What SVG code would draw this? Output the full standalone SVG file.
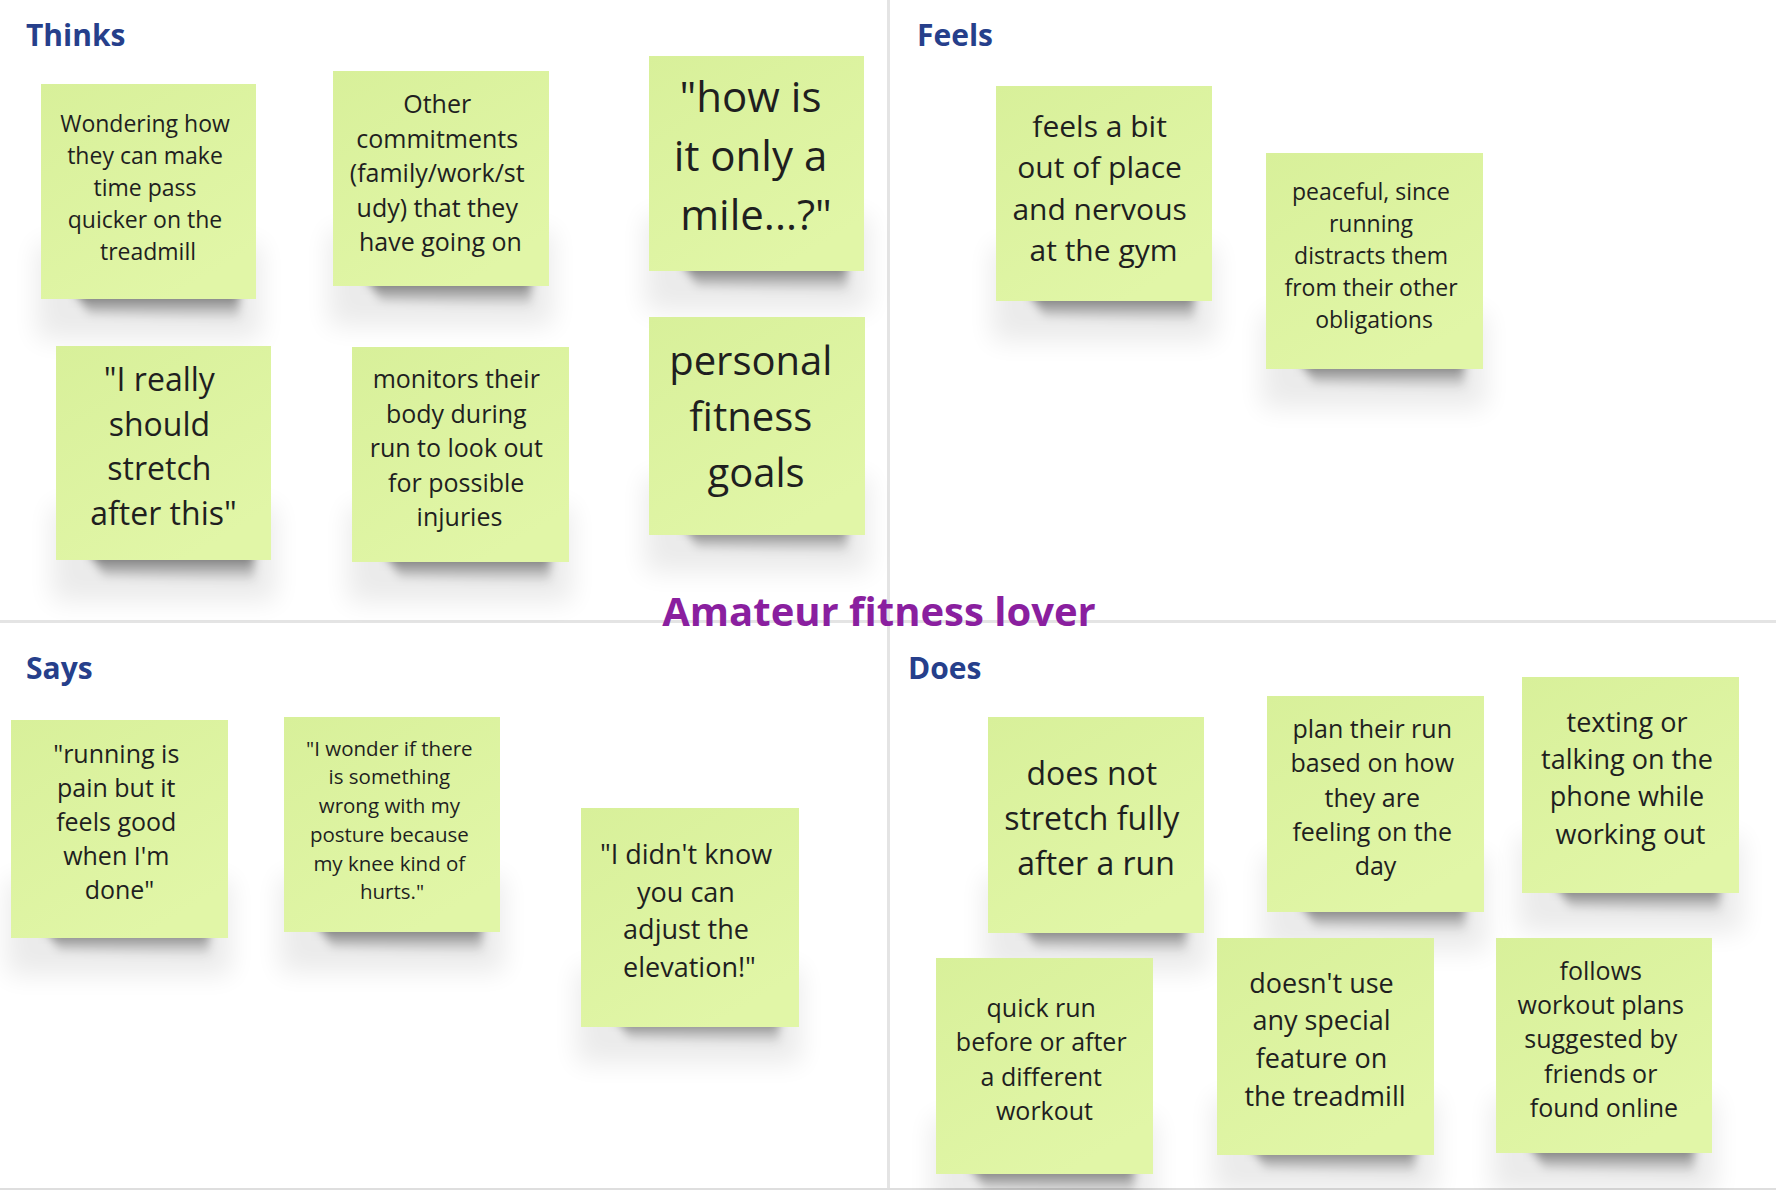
<svg xmlns="http://www.w3.org/2000/svg" xmlns:xlink="http://www.w3.org/1999/xlink" width="1776" height="1190" viewBox="0 0 1776 1190">
  <style>
    .bg { fill: #ffffff; }
    .divider { stroke: #e4e4e4; stroke-width: 3; fill: none; }
    .edge { stroke: #dedede; stroke-width: 2; fill: none; }
    .quad { font-family: "Open Sans", "Noto Sans", sans-serif; font-weight: 700; font-size: 30px; fill: #263f8b; }
    .persona { font-family: "Open Sans", "Noto Sans", sans-serif; font-weight: 700; font-size: 40px; fill: #8a1f9f; }
    .paper { fill: url(#paperFill); }
    .note-text { font-family: "Open Sans", "Noto Sans", sans-serif; font-weight: 400; fill: #1f1f1f; text-anchor: middle; }
  </style>
  <defs>
    <linearGradient id="paperFill" x1="0" y1="0" x2="0.6" y2="1">
      <stop offset="0" stop-color="#d8f09a"/>
      <stop offset="1" stop-color="#e1f6a7"/>
    </linearGradient>
    <linearGradient id="shadeFade" x1="0" y1="0" x2="0" y2="1">
      <stop offset="0" stop-color="#000" stop-opacity="0.6"/>
      <stop offset="1" stop-color="#000" stop-opacity="0"/>
    </linearGradient>
    <filter id="blurTight" x="-20%" y="-100%" width="140%" height="300%">
      <feGaussianBlur stdDeviation="5"/>
    </filter>
    <filter id="blurSoft" x="-30%" y="-100%" width="160%" height="300%">
      <feGaussianBlur stdDeviation="13"/>
    </filter>
    <!-- lifted-corner shadow under a 216x216 sticky note -->
    <g id="noteShadow">
      <rect x="-4" y="160" width="224" height="95" fill="#000" opacity="0.08" filter="url(#blurSoft)"/>
      <path d="M32 204 L198 204 L198 236 L48 230 Z" fill="url(#shadeFade)" filter="url(#blurTight)"/>
    </g>
  </defs>

  <rect class="bg" x="0" y="0" width="1776" height="1190"/>

  <!-- quadrant grid -->
  <g id="grid">
    <line class="divider" x1="888.5" y1="0" x2="888.5" y2="1190"/>
    <line class="divider" x1="0" y1="621.5" x2="1776" y2="621.5"/>
    <line class="edge" x1="0" y1="1189" x2="1776" y2="1189"/>
  </g>

  <!-- quadrant headings -->
  <g id="headings">
    <text class="quad" x="26" y="46">Thinks</text>
    <text class="quad" x="917" y="46">Feels</text>
    <text class="quad" x="26" y="679">Says</text>
    <text class="quad" x="908" y="679">Does</text>
  </g>

  <!-- Thinks -->
  <g id="note-thinks-1" transform="translate(41,84)">
    <use href="#noteShadow"/>
    <rect class="paper" width="215" height="215"/>
    <text class="note-text" font-size="23">
      <tspan x="107" y="47.6">Wondering how</tspan>
      <tspan x="107" y="79.6">they can make</tspan>
      <tspan x="107" y="111.6">time pass</tspan>
      <tspan x="107" y="143.6">quicker on the</tspan>
      <tspan x="107" y="175.6">treadmill</tspan>
    </text>
  </g>

  <g id="note-thinks-2" transform="translate(333,71)">
    <use href="#noteShadow"/>
    <rect class="paper" width="216" height="215"/>
    <text class="note-text" font-size="25">
      <tspan x="107.5" y="42">Other</tspan>
      <tspan x="107.5" y="76.6">commitments</tspan>
      <tspan x="107.5" y="111.2">(family/work/st</tspan>
      <tspan x="107.5" y="145.8">udy) that they</tspan>
      <tspan x="107.5" y="180.4">have going on</tspan>
    </text>
  </g>

  <g id="note-thinks-3" transform="translate(649,56)">
    <use href="#noteShadow"/>
    <rect class="paper" width="215" height="215"/>
    <text class="note-text" font-size="42">
      <tspan x="107" y="56">"how is</tspan>
      <tspan x="107" y="115">it only a</tspan>
      <tspan x="107" y="174">mile...?"</tspan>
    </text>
  </g>

  <g id="note-thinks-4" transform="translate(56,346)">
    <use href="#noteShadow"/>
    <rect class="paper" width="215" height="214"/>
    <text class="note-text" font-size="32">
      <tspan x="107.5" y="45">"I really</tspan>
      <tspan x="107.5" y="89.6">should</tspan>
      <tspan x="107.5" y="134.2">stretch</tspan>
      <tspan x="107.5" y="178.8">after this"</tspan>
    </text>
  </g>

  <g id="note-thinks-5" transform="translate(352,347)">
    <use href="#noteShadow"/>
    <rect class="paper" width="217" height="215"/>
    <text class="note-text" font-size="25">
      <tspan x="107.5" y="41">monitors their</tspan>
      <tspan x="107.5" y="75.5">body during</tspan>
      <tspan x="107.5" y="110">run to look out</tspan>
      <tspan x="107.5" y="144.5">for possible</tspan>
      <tspan x="107.5" y="179">injuries</tspan>
    </text>
  </g>

  <g id="note-thinks-6" transform="translate(649,317)">
    <use href="#noteShadow"/>
    <rect class="paper" width="216" height="218"/>
    <text class="note-text" font-size="40">
      <tspan x="107" y="58">personal</tspan>
      <tspan x="107" y="114">fitness</tspan>
      <tspan x="107" y="170">goals</tspan>
    </text>
  </g>

  <!-- Feels -->
  <g id="note-feels-1" transform="translate(996,86)">
    <use href="#noteShadow"/>
    <rect class="paper" width="216" height="215"/>
    <text class="note-text" font-size="30">
      <tspan x="107.5" y="50.5">feels a bit</tspan>
      <tspan x="107.5" y="92">out of place</tspan>
      <tspan x="107.5" y="133.5">and nervous</tspan>
      <tspan x="107.5" y="175">at the gym</tspan>
    </text>
  </g>

  <g id="note-feels-2" transform="translate(1266,153)">
    <use href="#noteShadow"/>
    <rect class="paper" width="217" height="216"/>
    <text class="note-text" font-size="23">
      <tspan x="108" y="47">peaceful, since</tspan>
      <tspan x="108" y="79">running</tspan>
      <tspan x="108" y="111">distracts them</tspan>
      <tspan x="108" y="143">from their other</tspan>
      <tspan x="108" y="175">obligations</tspan>
    </text>
  </g>

  <!-- centre persona -->
  <text id="persona" class="persona" x="879" y="626" text-anchor="middle">Amateur fitness lover</text>

  <!-- Says -->
  <g id="note-says-1" transform="translate(11,720)">
    <use href="#noteShadow"/>
    <rect class="paper" width="217" height="218"/>
    <text class="note-text" font-size="25">
      <tspan x="108.5" y="43">"running is</tspan>
      <tspan x="108.5" y="77">pain but it</tspan>
      <tspan x="108.5" y="111">feels good</tspan>
      <tspan x="108.5" y="145">when I'm</tspan>
      <tspan x="108.5" y="179">done"</tspan>
    </text>
  </g>

  <g id="note-says-2" transform="translate(284,717)">
    <use href="#noteShadow"/>
    <rect class="paper" width="216" height="215"/>
    <text class="note-text" font-size="20.5">
      <tspan x="108" y="38.7">"I wonder if there</tspan>
      <tspan x="108" y="67.4">is something</tspan>
      <tspan x="108" y="96.1">wrong with my</tspan>
      <tspan x="108" y="124.8">posture because</tspan>
      <tspan x="108" y="153.5">my knee kind of</tspan>
      <tspan x="108" y="182.2">hurts."</tspan>
    </text>
  </g>

  <g id="note-says-3" transform="translate(581,808)">
    <use href="#noteShadow"/>
    <rect class="paper" width="218" height="219"/>
    <text class="note-text" font-size="27">
      <tspan x="108.5" y="55.6">"I didn't know</tspan>
      <tspan x="108.5" y="93.5">you can</tspan>
      <tspan x="108.5" y="131.4">adjust the</tspan>
      <tspan x="108.5" y="169.3">elevation!"</tspan>
    </text>
  </g>

  <!-- Does -->
  <g id="note-does-1" transform="translate(988,717)">
    <use href="#noteShadow"/>
    <rect class="paper" width="216" height="216"/>
    <text class="note-text" font-size="32">
      <tspan x="108" y="68">does not</tspan>
      <tspan x="108" y="113">stretch fully</tspan>
      <tspan x="108" y="158">after a run</tspan>
    </text>
  </g>

  <g id="note-does-2" transform="translate(1267,696)">
    <use href="#noteShadow"/>
    <rect class="paper" width="217" height="216"/>
    <text class="note-text" font-size="25">
      <tspan x="108.5" y="42">plan their run</tspan>
      <tspan x="108.5" y="76.3">based on how</tspan>
      <tspan x="108.5" y="110.6">they are</tspan>
      <tspan x="108.5" y="144.9">feeling on the</tspan>
      <tspan x="108.5" y="179.2">day</tspan>
    </text>
  </g>

  <g id="note-does-3" transform="translate(1522,677)">
    <use href="#noteShadow"/>
    <rect class="paper" width="217" height="216"/>
    <text class="note-text" font-size="27">
      <tspan x="108.5" y="54.6">texting or</tspan>
      <tspan x="108.5" y="92">talking on the</tspan>
      <tspan x="108.5" y="129.4">phone while</tspan>
      <tspan x="108.5" y="166.8">working out</tspan>
    </text>
  </g>

  <g id="note-does-4" transform="translate(936,958)">
    <use href="#noteShadow"/>
    <rect class="paper" width="217" height="216"/>
    <text class="note-text" font-size="25">
      <tspan x="108.5" y="58.7">quick run</tspan>
      <tspan x="108.5" y="93.1">before or after</tspan>
      <tspan x="108.5" y="127.5">a different</tspan>
      <tspan x="108.5" y="161.9">workout</tspan>
    </text>
  </g>

  <g id="note-does-5" transform="translate(1217,938)">
    <use href="#noteShadow"/>
    <rect class="paper" width="217" height="217"/>
    <text class="note-text" font-size="27">
      <tspan x="108" y="54.6">doesn't use</tspan>
      <tspan x="108" y="92.4">any special</tspan>
      <tspan x="108" y="130.2">feature on</tspan>
      <tspan x="108" y="168">the treadmill</tspan>
    </text>
  </g>

  <g id="note-does-6" transform="translate(1496,938)">
    <use href="#noteShadow"/>
    <rect class="paper" width="216" height="215"/>
    <text class="note-text" font-size="25">
      <tspan x="108" y="41.6">follows</tspan>
      <tspan x="108" y="76">workout plans</tspan>
      <tspan x="108" y="110.4">suggested by</tspan>
      <tspan x="108" y="144.8">friends or</tspan>
      <tspan x="108" y="179.2">found online</tspan>
    </text>
  </g>
</svg>
